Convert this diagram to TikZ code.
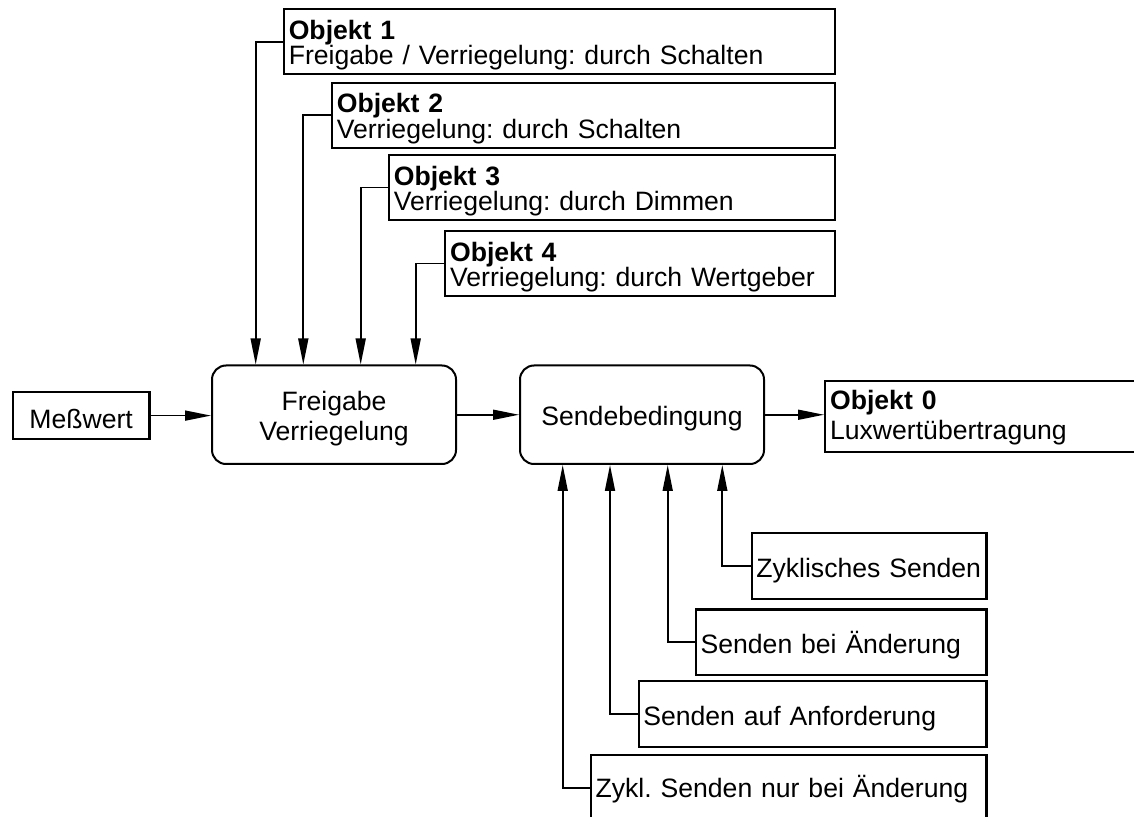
\documentclass[tikz,border=0pt]{standalone}
\usepackage{fontspec}
\setmainfont{Liberation Sans}
\usetikzlibrary{arrows.meta,calc}
\frenchspacing
\begin{document}
\begin{tikzpicture}[x=0.5pt,y=-0.5pt,
  objbox/.style={draw, line width=1.1pt, anchor=north west, inner xsep=2.5pt, inner ysep=0pt,
    align=left, font=\fontsize{13.3pt}{12.8pt}\selectfont, text height=15pt, text depth=17.5pt},
  sendbox/.style={draw, line width=1.1pt, anchor=north west, inner xsep=2.25pt, inner ysep=0pt,
    align=left, font=\fontsize{13.3pt}{14pt}\selectfont, text height=22pt, text depth=10.75pt},
  rbox/.style={draw, line width=1pt, rounded corners=7pt, anchor=north west, inner sep=0pt,
    align=center, text width=122pt},
  conn/.style={line width=0.85pt, -{Triangle[length=13pt,width=5pt]}},
]
\useasboundingbox (0,0) rectangle (1134,817);

% top objects
\node[objbox, text width=270.65pt] (o1) at (282.7,8.3) {\textbf{Objekt 1}\\Freigabe / Verriegelung: durch Schalten};
\node[objbox, text width=246.65pt] (o2) at (330.7,81.7) {\textbf{Objekt 2}\\Verriegelung: durch Schalten};
\node[objbox, text width=218.15pt] (o3) at (387.7,154) {\textbf{Objekt 3}\\Verriegelung: durch Dimmen};
\node[objbox, text width=190pt] (o4) at (444,230) {\textbf{Objekt 4}\\Verriegelung: durch Wertgeber};

% main row
\node[draw, line width=1.1pt, anchor=north west, inner sep=0pt, align=center, text width=68.3pt,
  font=\fontsize{13.3pt}{14pt}\selectfont, text height=18.3pt, text depth=5.5pt] (mw) at (11.7,390.7) {Meßwert};
\node[rbox, font=\fontsize{13.3pt}{14.65pt}\selectfont, text height=22.75pt, text depth=26.5pt] (fv) at (211,364.5) {Freigabe\\Verriegelung};
\node[rbox, font=\fontsize{13.3pt}{14pt}\selectfont, text height=30.25pt, text depth=19pt] (sb) at (519,364.5) {Sendebedingung};
\node[draw, line width=1.1pt, anchor=north west, inner xsep=2.5pt, inner ysep=0pt, align=left, text width=200pt,
  font=\fontsize{13.3pt}{14.85pt}\selectfont, text height=14.15pt, text depth=21.35pt] (o0) at (824,380) {\textbf{Objekt 0}\\Luxwertübertragung};

% bottom send options
\node[sendbox, text width=112.8pt] (zs) at (750.7,532) {Zyklisches Senden};
\node[sendbox, text width=140.65pt] (sa) at (695,608.3) {Senden bei Änderung};
\node[sendbox, text width=169.3pt] (sf) at (637.7,680) {Senden auf Anforderung};
\node[sendbox, text width=193.15pt, text depth=11.65pt, text height=21.35pt] (zn) at (590,754) {Zykl. Senden nur bei Änderung};

% connectors top
\draw[conn] (o1.west) -| ($(fv.north west)+(44.7,0)$);
\draw[conn] (o2.west) -| ($(fv.north west)+(92.3,0)$);
\draw[conn] (o3.west) -| ($(fv.north west)+(149.7,0)$);
\draw[conn] (o4.west) -| ($(fv.north west)+(204.7,0)$);

% main arrows
\draw[conn] (mw.east) -- (mw.east -| fv.west);
\draw[conn] (fv.east) -- (fv.east -| sb.west);
\draw[conn] (sb.east) -- (sb.east -| o0.west);

% connectors bottom
\draw[conn] (zn.west) -| ($(sb.south west)+(43.7,0)$);
\draw[conn] (sf.west) -| ($(sb.south west)+(91,0)$);
\draw[conn] (sa.west) -| ($(sb.south west)+(148.7,0)$);
\draw[conn] (zs.west) -| ($(sb.south west)+(203.3,0)$);
\end{tikzpicture}
\end{document}
